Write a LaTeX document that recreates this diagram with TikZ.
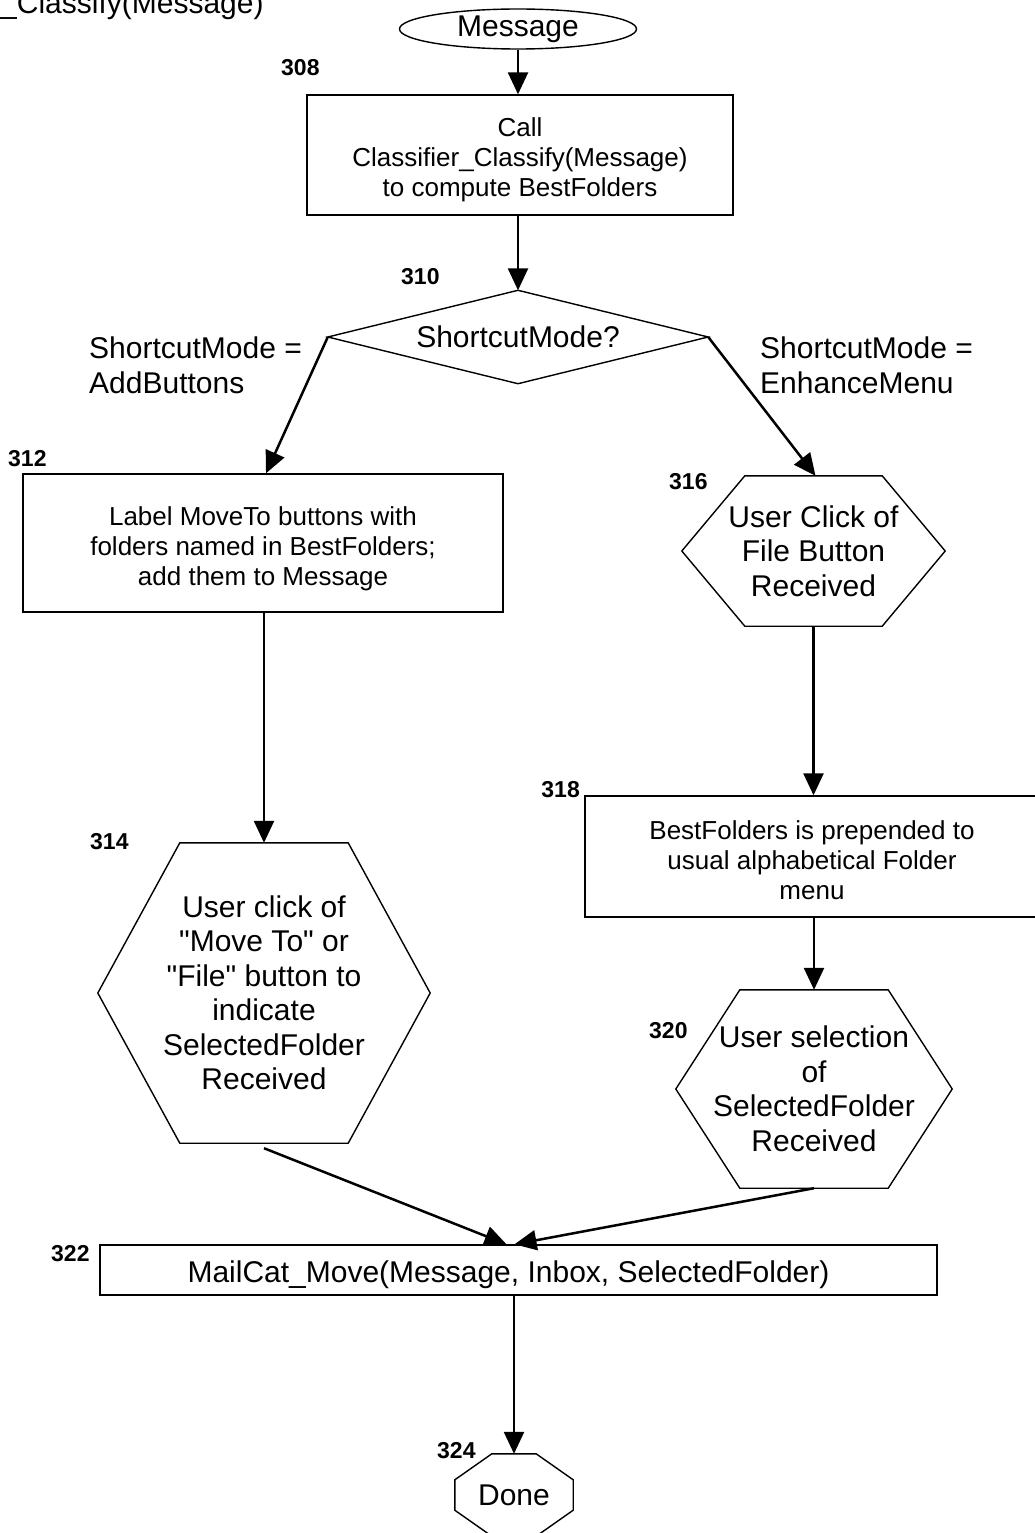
\documentclass[tikz,border=0pt]{standalone}
\usepackage{fontspec}
\setmainfont{Liberation Sans}
\usetikzlibrary{arrows.meta,shapes.geometric}
\begin{document}
\begin{tikzpicture}[x=1pt,y=-1pt,
  box/.style={draw, line width=1.4pt, inner sep=0pt, align=center, font=\fontsize{26}{30}\selectfont},
  big/.style={inner sep=0pt, align=center, font=\fontsize{30}{34.5}\selectfont},
  hexnode/.style={big, draw=none},
  num/.style={inner sep=0pt, font=\fontsize{23}{24}\selectfont\bfseries},
  arr/.style={line width=2.5pt, -{Triangle[length=22pt,width=20pt]}},
  shp/.style={draw, line width=1.4pt, line join=miter}]

\useasboundingbox (0,0) rectangle (1035,1533);
\clip (0,0) rectangle (1035,1533);

% cut-off title
\node[big, anchor=base west] (title) at (0,14) {\_Classify(Message)};

% start ellipse
\node[ellipse, draw, line width=1.4pt, inner sep=0pt, minimum width=237pt, minimum height=40pt,
      font=\fontsize{30}{34.5}\selectfont] (msg) at (518,29) {Message};

% 308
\node[box, minimum width=426pt, minimum height=120pt] (b308) at (520,155)
  {\rule{0pt}{29pt}Call\\Classifier\_Classify(Message)\\to compute BestFolders};
\node[num, anchor=base west] (l308) at (281,76) {308};

% 310 decision
\node[hexnode, minimum width=380pt, minimum height=93pt] (d310) at (518,337) {ShortcutMode?};
\draw[shp] (d310.north) -- (d310.east) -- (d310.south) -- (d310.west) -- cycle;
\node[num, anchor=base west] (l310) at (401,284) {310};

\node[big, anchor=base west, align=left] (lblL) at (89,393) {ShortcutMode =\\AddButtons};
\node[big, anchor=base west, align=left] (lblR) at (760,393) {ShortcutMode =\\EnhanceMenu};

% 312
\node[box, minimum width=480pt, minimum height=138pt] (b312) at (263,543)
  {\rule{0pt}{31pt}Label MoveTo buttons with\\folders named in BestFolders;\\add them to Message};
\node[num, anchor=base west] (l312) at (8,466) {312};

% 316 hexagon
\node[hexnode, minimum width=263pt, minimum height=150pt] (h316) at (813.5,551)
  {User Click of\\File Button\\Received};
\draw[shp] ([xshift=63pt]h316.north west) -- ([xshift=-63pt]h316.north east) -- (h316.east)
  -- ([xshift=-63pt]h316.south east) -- ([xshift=63pt]h316.south west) -- (h316.west) -- cycle;
\node[num, anchor=base west] (l316) at (669,489) {316};

% 314 hexagon
\node[hexnode, minimum width=332pt, minimum height=300pt] (h314) at (264,993)
  {User click of\\\textquotedbl Move To\textquotedbl{} or\\\textquotedbl File\textquotedbl{} button to\\indicate\\SelectedFolder\\Received};
\draw[shp] ([xshift=82pt]h314.north west) -- ([xshift=-82pt]h314.north east) -- (h314.east)
  -- ([xshift=-82pt]h314.south east) -- ([xshift=82pt]h314.south west) -- (h314.west) -- cycle;
\node[num, anchor=base west] (l314) at (90,849) {314};

% 318
\node[box, minimum width=454pt, minimum height=121pt] (b318) at (812,856.5)
  {\rule{0pt}{27pt}BestFolders is prepended to\\usual alphabetical Folder\\menu};
\node[num, anchor=base east] (l318) at (580,797) {318};

% 320 hexagon
\node[hexnode, minimum width=276pt, minimum height=198pt] (h320) at (814,1089)
  {User selection\\of\\SelectedFolder\\Received};
\draw[shp] ([xshift=64pt]h320.north west) -- ([xshift=-64pt]h320.north east) -- (h320.east)
  -- ([xshift=-64pt]h320.south east) -- ([xshift=64pt]h320.south west) -- (h320.west) -- cycle;
\node[num, anchor=base west] (l320) at (649,1038) {320};

% 322
\node[box, minimum width=837pt, minimum height=50pt, font=\fontsize{30}{34.5}\selectfont] (b322) at (518.5,1270)
  {\rule{0pt}{32pt}MailCat\_Move(Message, Inbox, SelectedFolder)\hspace*{20pt}};
\node[num, anchor=base west] (l322) at (51,1261) {322};

% 324 done
\node[hexnode, minimum width=118pt, minimum height=82pt] (done) at (514,1495) {Done};
\draw[shp] ([xshift=37pt]done.north west) -- ([xshift=-37pt]done.north east)
  -- ([yshift=-26pt]done.north east) -- ([yshift=26pt]done.south east)
  -- ([xshift=-37pt]done.south east) -- ([xshift=37pt]done.south west)
  -- ([yshift=26pt]done.south west) -- ([yshift=-26pt]done.north west) -- cycle;
\node[num, anchor=base west] (l324) at (437,1458) {324};

% connectors
\draw[arr] (msg.south) -- (b308.north -| msg.south);
\draw[arr] (b308.south -| d310.north) -- (d310.north);
\draw[arr] (d310.west) -- ([xshift=3pt]b312.north);
\draw[arr] (d310.east) -- ([xshift=2pt]h316.north);
\draw[arr] (b312.south -| h314.north) -- (h314.north);
\draw[arr] (h316.south) -- (b318.north -| h316.south);
\draw[arr] (b318.south -| h320.north) -- (h320.north);
\draw[arr] ([yshift=-5pt]h314.south) -- ([xshift=-12pt]b322.north);
\draw[arr] (h320.south) -- ([xshift=-4pt]b322.north);
\draw[arr] (b322.south -| done.north) -- (done.north);
\end{tikzpicture}
\end{document}
